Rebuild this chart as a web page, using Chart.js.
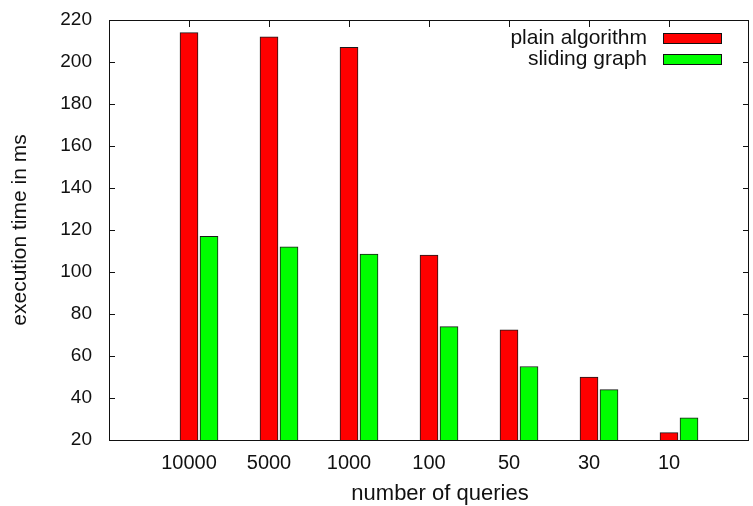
<!DOCTYPE html>
<html>
<head>
<meta charset="utf-8">
<script src="https://cdn.jsdelivr.net/npm/chart.js@4/dist/chart.umd.min.js"></script>
<style>
  html, body { margin: 0; padding: 0; background: #fff; }
  #wrap { width: 753px; height: 506px; }
</style>
</head>
<body>
<div id="wrap"><canvas id="grafico"></canvas></div>
<script>
// datos
const categorias = ["10000", "5000", "1000", "100", "50", "30", "10"];
const plainAlgorithm = [214, 212, 207, 108, 72.5, 50, 23.5];
const slidingGraph = [117, 112, 108.5, 74, 55, 44, 30.5];
const yTicks = [20, 40, 60, 80, 100, 120, 140, 160, 180, 200, 220];

const fuente = "'Liberation Sans', Arial, sans-serif";
const ctx = document.getElementById("grafico").getContext("2d");

// marcos, ticks hacia dentro, leyenda y titulo del eje x (estilo gnuplot)
const estiloGnuplot = {
  id: "estiloGnuplot",
  beforeDatasetsDraw(chart) {
    const { ctx, chartArea: a, scales } = chart;
    ctx.save();
    ctx.strokeStyle = "#111";
    ctx.lineWidth = 1;
    ctx.beginPath();
    yTicks.forEach(v => {
      const y = Math.round(scales.y.getPixelForValue(v)) + 0.5;
      ctx.moveTo(a.left, y); ctx.lineTo(a.left + 6, y);
      ctx.moveTo(a.right, y); ctx.lineTo(a.right - 6, y);
    });
    categorias.forEach((c, i) => {
      const x = Math.round(scales.x.getPixelForValue(i)) + 0.5;
      ctx.moveTo(x, a.bottom); ctx.lineTo(x, a.bottom - 7);
      ctx.moveTo(x, a.top); ctx.lineTo(x, a.top + 7);
    });
    ctx.stroke();
    ctx.restore();
  },
  afterDatasetsDraw(chart) {
    const { ctx, chartArea: a } = chart;
    ctx.save();
    ctx.strokeStyle = "#111";
    ctx.lineWidth = 1;
    ctx.strokeRect(Math.round(a.left) + 0.5, Math.round(a.top) + 0.5,
      Math.round(a.right - a.left) - 1, Math.round(a.bottom - a.top));

    // leyenda
    ctx.font = "21px " + fuente;
    ctx.fillStyle = "#111";
    ctx.textAlign = "right";
    ctx.textBaseline = "middle";
    chart.data.datasets.forEach((ds, i) => {
      const y = 38 + i * 21;
      ctx.fillText(ds.label, 647, y);
      ctx.fillStyle = ds.backgroundColor;
      ctx.fillRect(663, y - 5, 59, 10);
      ctx.strokeRect(663.5, y - 4.5, 58, 10);
      ctx.fillStyle = "#111";
    });

    // titulo eje x
    ctx.font = "22px " + fuente;
    ctx.textAlign = "center";
    ctx.fillText("number of queries", 440, 494);
    ctx.restore();
  }
};

new Chart(ctx, {
  type: "bar",
  data: {
    datasets: [{
      label: "plain algorithm",
      data: categorias.map((c, i) => ({ x: i, y: plainAlgorithm[i] })),
      backgroundColor: "#ff0000",
      borderColor: "#1a1a1a",
      borderWidth: 1
    }, {
      label: "sliding graph",
      data: categorias.map((c, i) => ({ x: i + 0.25, y: slidingGraph[i] })),
      backgroundColor: "#00ff00",
      borderColor: "#1a1a1a",
      borderWidth: 1
    }]
  },
  options: {
    responsive: true,
    maintainAspectRatio: false,
    animation: false,
    grouped: false,
    barThickness: 18,
    layout: { padding: { top: 20, right: 4, left: 0, bottom: 0 } },
    plugins: { legend: { display: false }, tooltip: { enabled: false } },
    scales: {
      x: {
        type: "linear",
        min: -1,
        max: 7,
        offset: false,
        grid: { display: false, drawTicks: false },
        border: { display: false },
        afterFit: s => { s.height = 66; s.paddingLeft = 0; s.paddingRight = 0; },
        afterBuildTicks: s => { s.ticks = categorias.map((c, i) => ({ value: i })); },
        ticks: {
          autoSkip: false,
          maxRotation: 0,
          padding: 11,
          color: "#111",
          font: { family: fuente, size: 20 },
          callback: v => categorias[v] ?? ""
        }
      },
      y: {
        min: 20,
        max: 220,
        grid: { display: false, drawTicks: false },
        border: { display: false },
        afterFit: s => { s.width = 109; s.paddingTop = 0; s.paddingBottom = 0; },
        afterBuildTicks: s => { s.ticks = yTicks.map(v => ({ value: v })); },
        ticks: {
          padding: 17,
          color: "#111",
          font: { family: fuente, size: 19 }
        },
        title: {
          display: true,
          text: "execution time in ms",
          color: "#111",
          font: { family: fuente, size: 21 },
          padding: { top: 8, bottom: 0 }
        }
      }
    }
  },
  plugins: [estiloGnuplot]
});
</script>
</body>
</html>
